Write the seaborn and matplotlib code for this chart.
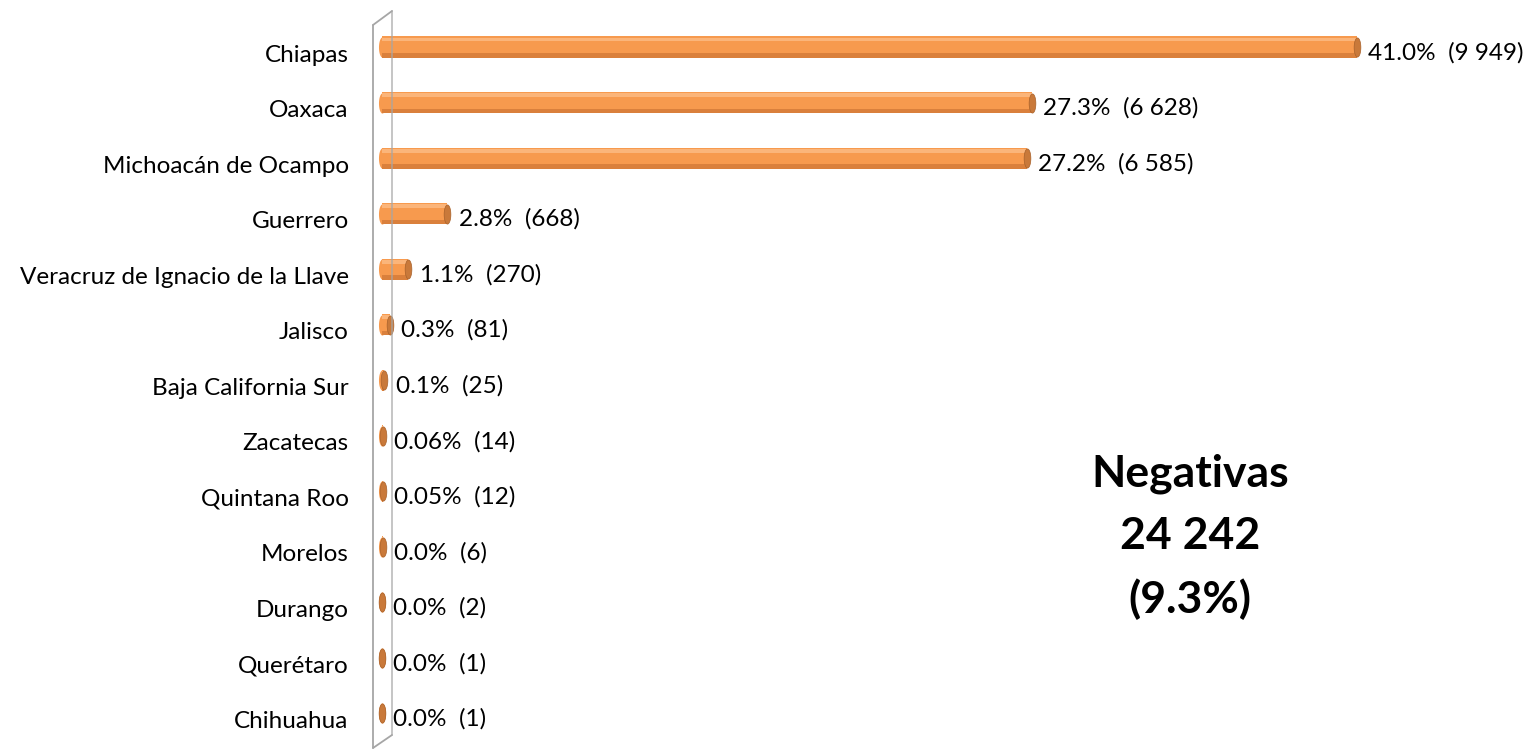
import numpy as np
import matplotlib
matplotlib.use("Agg")
import matplotlib.pyplot as plt
from matplotlib.path import Path
from matplotlib.transforms import ScaledTranslation
import seaborn as sns

states = ["Chiapas", "Oaxaca", "Michoacán de Ocampo", "Guerrero",
          "Veracruz de Ignacio de la Llave", "Jalisco", "Baja California Sur",
          "Zacatecas", "Quintana Roo", "Morelos", "Durango", "Querétaro", "Chihuahua"]
counts = [9949, 6628, 6585, 668, 270, 81, 25, 14, 12, 6, 2, 1, 1]
pcts = ["41.0%", "27.3%", "27.2%", "2.8%", "1.1%", "0.3%", "0.1%",
        "0.06%", "0.05%", "0.0%", "0.0%", "0.0%", "0.0%"]
count_labels = ["9 949", "6 628", "6 585", "668", "270", "81", "25",
                "14", "12", "6", "2", "1", "1"]

sns.set_style("white")
plt.rcParams["font.family"] = ["Lato", "DejaVu Sans"]
plt.rcParams["text.color"] = "black"
plt.rcParams["ytick.color"] = "black"

W, H = 1528, 749
fig = plt.figure(figsize=(W / 100, H / 100), dpi=100)
x0 = 382
ax = fig.add_axes([x0 / W, 7.75 / H, (W - x0) / W, 722 / H])

orange = "#F79A4E"
sns.barplot(x=counts, y=states, orient="h", color=orange, width=0.38,
            saturation=1, linewidth=0, ax=ax, zorder=2)
ax.set_xlim(0, (W - x0) / 0.098)
ax.set_ylim(len(states) - 0.5, -0.5)

ypos = np.arange(len(states))
# cylinder shading: light top, dark bottom
ax.barh(ypos - 0.135, counts, height=0.07, color="#FBB57A", linewidth=0, zorder=2.1)
ax.barh(ypos + 0.15, counts, height=0.08, color="#CF7635", alpha=0.7, linewidth=0, zorder=2.1)

# cylinder caps
t = np.linspace(0, 2 * np.pi, 60)
ell = Path(np.column_stack([0.35 * np.cos(t), np.sin(t)]))
ax.scatter(np.zeros(len(states)), ypos, marker=ell, s=210, color=orange,
           linewidths=0, zorder=1.5, clip_on=False)
ax.scatter(counts, ypos, marker=ell, s=190, color="#C9793A",
           edgecolor="#A8622C", linewidths=0.5, zorder=3, clip_on=False)

for i, (v, p, c) in enumerate(zip(counts, pcts, count_labels)):
    ax.annotate(f"{p}  ({c})", xy=(v, i), xytext=(8, -4), textcoords="offset points",
                va="center", ha="left", fontsize=17.5, color="black")

ax.set_xlabel("")
ax.set_ylabel("")
ax.set_xticks([])
ax.tick_params(axis="y", length=0, pad=24, labelsize=17.5)
shift = ScaledTranslation(0, -6 / 100, fig.dpi_scale_trans)
for lab in ax.get_yticklabels():
    lab.set_transform(lab.get_transform() + shift)
for s in ax.spines.values():
    s.set_visible(False)

# back wall panel
def fx(px):
    return px / W

def fy(py):
    return 1 - py / H

wall = dict(color="#A6A6A6", lw=1.3, transform=fig.transFigure, zorder=4)
fig.add_artist(plt.Line2D([fx(373), fx(373)], [fy(25), fy(748)], **wall))
fig.add_artist(plt.Line2D([fx(392), fx(392)], [fy(11), fy(735)], alpha=0.7, **wall))
fig.add_artist(plt.Line2D([fx(373), fx(392)], [fy(25), fy(11)], **wall))
fig.add_artist(plt.Line2D([fx(373), fx(392)], [fy(748), fy(735)], **wall))

fig.text(fx(1190), fy(537), "Negativas\n24 242\n(9.3%)", ha="center", va="center",
         fontsize=32, fontweight="bold", linespacing=1.66, color="black")

fig.savefig("out.png", dpi=100)
